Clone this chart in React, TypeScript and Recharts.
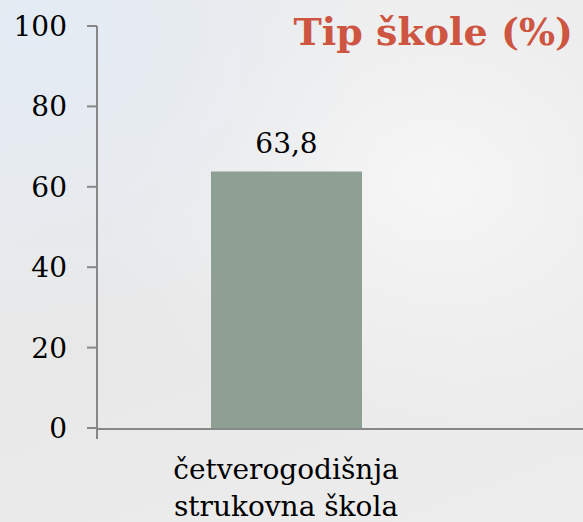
import { Bar, BarChart, LabelList, XAxis, YAxis } from "recharts";

const CATEGORIES = ["četverogodišnja\nstrukovna škola", ""];
const SHARES = [63.8, null];
const Y_TICKS = [0, 20, 40, 60, 80, 100];
const EDGE_TICKS = [0, 1, 2];
const TITLE = "Tip škole (%)";

const FONT = "'DejaVu Serif', 'Liberation Serif', serif";
const AXIS_GREY = "#878787";
const BAR_COLOR = "#8e9f94";

type Row = { name: string; value: number | null };

const data: Row[] = CATEGORIES.map((name, i) => ({ name, value: SHARES[i] }));

function CategoryTick(props: any) {
  const { x, y, payload } = props;
  const lines = String(payload.value).split("\n");
  return (
    <text
      x={x}
      y={y}
      textAnchor="middle"
      fontFamily={FONT}
      fontSize={28}
      fill="#000"
    >
      {lines.map((line, i) => (
        <tspan key={i} x={x} dy={i === 0 ? 43 : 37}>
          {line}
        </tspan>
      ))}
    </text>
  );
}

export default function App() {
  return (
    <div
      style={{
        position: "absolute",
        left: 0,
        top: 0,
        width: 583,
        height: 522,
        overflow: "hidden",
        background:
          "radial-gradient(ellipse at 5% 5%, #e3ebf4 0%, rgba(227,235,244,0) 45%), radial-gradient(ellipse at 75% 35%, #f6f6f6 0%, rgba(246,246,246,0) 55%), linear-gradient(160deg, #ececec 0%, #e8e8e8 50%, #ededed 100%)",
      }}
    >
      <BarChart
        width={900}
        height={522}
        data={data}
        margin={{ top: 26, right: 47, bottom: 0, left: 0 }}
        barCategoryGap={0}
      >
        {/* category labels sit on the plot edge; the boundary ticks come from the numeric axis */}
        <XAxis
          xAxisId="cat"
          dataKey="name"
          axisLine={false}
          tickLine={false}
          height={1}
          interval={0}
          tick={<CategoryTick />}
        />
        <XAxis
          xAxisId="edge"
          type="number"
          domain={[0, 2]}
          ticks={EDGE_TICKS}
          tickFormatter={() => ""}
          tickSize={10}
          height={93}
          axisLine={{ stroke: AXIS_GREY, strokeWidth: 2 }}
          tickLine={{ stroke: AXIS_GREY, strokeWidth: 2 }}
          allowDataOverflow
        />
        <YAxis
          width={97}
          domain={[0, 100]}
          ticks={Y_TICKS}
          tickSize={10}
          tickMargin={20}
          axisLine={{ stroke: AXIS_GREY, strokeWidth: 2 }}
          tickLine={{ stroke: AXIS_GREY, strokeWidth: 2 }}
          tick={{ fontFamily: FONT, fontSize: 28, fill: "#000" }}
        />
        <Bar
          xAxisId="cat"
          dataKey="value"
          fill={BAR_COLOR}
          barSize={151}
          isAnimationActive={false}
        >
          <LabelList
            dataKey="value"
            position="top"
            offset={19}
            formatter={(v: any) =>
              v == null ? "" : String(v).replace(".", ",")
            }
            style={{ fontFamily: FONT, fontSize: 28, fill: "#000" }}
          />
        </Bar>
      </BarChart>
      <svg
        width={583}
        height={70}
        style={{ position: "absolute", left: 0, top: 0 }}
      >
        <text
          x={573}
          y={45}
          textAnchor="end"
          fontFamily={FONT}
          fontWeight="bold"
          fontSize={38}
          fill="#cd5541"
        >
          {TITLE}
        </text>
      </svg>
    </div>
  );
}
